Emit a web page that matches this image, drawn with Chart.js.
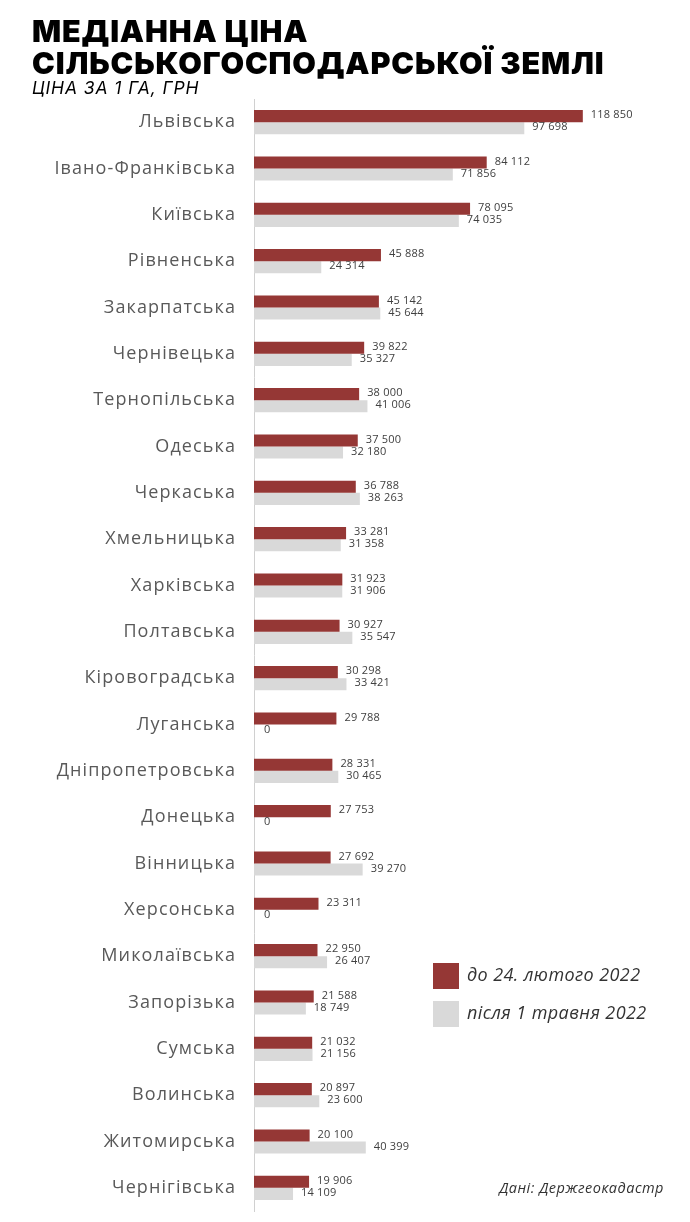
<!DOCTYPE html>
<html>
<head>
<meta charset="utf-8">
<script src="https://cdn.jsdelivr.net/npm/chart.js@4"></script>
<style>
  html, body { margin: 0; padding: 0; background: #fff; }
  #wrap { position: relative; width: 690px; height: 1222px; }
  #chart { position: absolute; left: 0; top: 0; }
  .title { position: absolute; left: 32px; top: 15px; font-family: Inter, sans-serif; font-weight: 900;
           font-size: 30.5px; line-height: 32px; color: #000; letter-spacing: 0.85px; }
  .sub { position: absolute; left: 32px; top: 77px; font-family: Inter, sans-serif; font-style: italic;
         font-size: 17.5px; color: #000; letter-spacing: 0.9px; }
  .leg { position: absolute; left: 433px; font-family: "Open Sans", sans-serif; font-style: italic;
         font-size: 18px; color: #333; letter-spacing: 0.4px; }
  .leg span { display: inline-block; width: 26px; height: 26px; vertical-align: middle; margin-right: 8px; }
  .src { position: absolute; right: 26px; top: 1178px; font-family: "Open Sans", sans-serif; font-style: italic;
         font-size: 14.5px; color: #333; letter-spacing: 0.5px; }
</style>
</head>
<body>
<div id="wrap">
  <canvas id="chart" width="690" height="1222"></canvas>
  <div class="title">МЕДІАННА ЦІНА<br>СІЛЬСЬКОГОСПОДАРСЬКОЇ ЗЕМЛІ</div>
  <div class="sub">ЦІНА ЗА 1 ГА, ГРН</div>
  <div class="leg" style="top:962px"><span style="background:#953735"></span>до 24. лютого 2022</div>
  <div class="leg" style="top:1000px"><span style="background:#d9d9d9"></span>після 1 травня 2022</div>
  <div class="src">Дані: Держгеокадастр</div>
</div>
<script>
var regions = ['Львівська', 'Івано-Франківська', 'Київська', 'Рівненська', 'Закарпатська', 'Чернівецька',
  'Тернопільська', 'Одеська', 'Черкаська', 'Хмельницька', 'Харківська', 'Полтавська', 'Кіровоградська',
  'Луганська', 'Дніпропетровська', 'Донецька', 'Вінницька', 'Херсонська', 'Миколаївська', 'Запорізька',
  'Сумська', 'Волинська', 'Житомирська', 'Чернігівська'];

var beforeWar = [118850, 84112, 78095, 45888, 45142, 39822, 38000, 37500, 36788, 33281, 31923, 30927, 30298,
  29788, 28331, 27753, 27692, 23311, 22950, 21588, 21032, 20897, 20100, 19906];

var afterMay = [97698, 71856, 74035, 24314, 45644, 35327, 41006, 32180, 38263, 31358, 31906, 35547, 33421,
  0, 30465, 0, 39270, 0, 26407, 18749, 21156, 23600, 40399, 14109];

function fmt(v) {
  return String(v).replace(/\B(?=(\d{3})+(?!\d))/g, ' ');
}

// wider spacing for the region names
var spacing = {
  id: 'spacing',
  beforeDraw: function (chart) { chart.ctx.letterSpacing = '1.1px'; }
};

// value labels next to each bar
var valueLabels = {
  id: 'valueLabels',
  afterDatasetsDraw: function (chart) {
    var ctx = chart.ctx;
    ctx.save();
    ctx.letterSpacing = '0.2px';
    ctx.font = '11px "Open Sans", sans-serif';
    ctx.fillStyle = '#404040';
    ctx.textAlign = 'left';
    ctx.textBaseline = 'middle';
    chart.data.datasets.forEach(function (ds, i) {
      chart.getDatasetMeta(i).data.forEach(function (bar, j) {
        var x = ds.data[j] === 0 ? bar.x + 10 : bar.x + 8;
        ctx.fillText(fmt(ds.data[j]), x, bar.y - 1);
      });
    });
    ctx.restore();
  }
};

var ctx = document.getElementById('chart').getContext('2d');

var myBarChart = new Chart(ctx, {
  type: 'bar',
  data: {
    labels: regions,
    datasets: [{
      label: 'до 24. лютого 2022',
      data: beforeWar,
      backgroundColor: '#953735',
      categoryPercentage: 0.52,
      barPercentage: 1
    }, {
      label: 'після 1 травня 2022',
      data: afterMay,
      backgroundColor: '#d9d9d9',
      categoryPercentage: 0.52,
      barPercentage: 1
    }]
  },
  options: {
    indexAxis: 'y',
    responsive: false,
    animation: false,
    layout: { padding: { left: 0, right: 21, top: 99, bottom: 11 } },
    plugins: { legend: { display: false }, tooltip: { enabled: false } },
    scales: {
      x: { display: false, min: 0, max: 150000 },
      y: {
        grid: { display: false, drawTicks: false },
        border: { display: true, color: '#d0d0d0', width: 1 },
        ticks: { color: '#595959', padding: 18, font: { family: '"Open Sans", sans-serif', size: 18 } },
        afterFit: function (scale) {
          scale.width = 254;
          scale.paddingTop = 0;
          scale.paddingBottom = 0;
        }
      }
    }
  },
  plugins: [spacing, valueLabels]
});
</script>
</body>
</html>
